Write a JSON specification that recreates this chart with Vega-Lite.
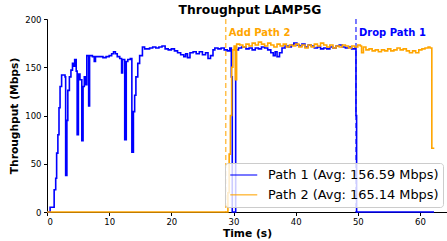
{
  "$schema": "https://vega.github.io/schema/vega-lite/v6.json",
  "width": 400,
  "height": 193,
  "autosize": "none",
  "padding": {"left": 47, "top": 19, "right": 0, "bottom": 29},
  "background": "white",
  "config": {
    "font": "DejaVu Sans",
    "view": {"stroke": null},
    "axis": {
      "grid": false,
      "domainColor": "black",
      "domainWidth": 1,
      "tickColor": "black",
      "tickSize": 3.5,
      "labelFontSize": 8.5,
      "labelColor": "black",
      "labelFont": "DejaVu Sans",
      "titleFont": "DejaVu Sans",
      "titleFontSize": 10.7,
      "titleFontWeight": "bold",
      "titleColor": "black"
    }
  },
  "title": {
    "text": "Throughput LAMP5G",
    "fontSize": 12.3,
    "fontWeight": "bold",
    "font": "DejaVu Sans",
    "color": "black",
    "anchor": "middle",
    "frame": "group",
    "dx": 3,
    "offset": -14.5,
    "baseline": "bottom"
  },
  "datasets": {
    "series": [
      {"t":0,"v":0,"s":"Path 1"},{"t":0.5,"v":5,"s":"Path 1"},{"t":1.15,"v":23,"s":"Path 1"},{"t":1.4,"v":35,"s":"Path 1"},{"t":1.55,"v":61,"s":"Path 1"},{"t":1.75,"v":80,"s":"Path 1"},{"t":1.93,"v":108,"s":"Path 1"},{"t":2.1,"v":130,"s":"Path 1"},{"t":2.35,"v":142,"s":"Path 1"},{"t":2.9,"v":140,"s":"Path 1"},{"t":3.0,"v":38,"s":"Path 1"},{"t":3.2,"v":95,"s":"Path 1"},{"t":3.35,"v":126,"s":"Path 1"},{"t":3.6,"v":140,"s":"Path 1"},{"t":3.85,"v":147,"s":"Path 1"},{"t":4.1,"v":154,"s":"Path 1"},{"t":4.3,"v":151,"s":"Path 1"},{"t":4.45,"v":158,"s":"Path 1"},{"t":4.7,"v":146,"s":"Path 1"},{"t":4.85,"v":80,"s":"Path 1"},{"t":5.05,"v":143,"s":"Path 1"},{"t":5.3,"v":137,"s":"Path 1"},{"t":5.6,"v":74,"s":"Path 1"},{"t":5.8,"v":130,"s":"Path 1"},{"t":6.0,"v":140,"s":"Path 1"},{"t":6.2,"v":132,"s":"Path 1"},{"t":6.4,"v":162,"s":"Path 1"},{"t":6.7,"v":110,"s":"Path 1"},{"t":6.85,"v":162,"s":"Path 1"},{"t":7.3,"v":161,"s":"Path 1"},{"t":7.6,"v":156,"s":"Path 1"},{"t":7.8,"v":161,"s":"Path 1"},{"t":8.5,"v":161,"s":"Path 1"},{"t":9,"v":160,"s":"Path 1"},{"t":9.5,"v":161,"s":"Path 1"},{"t":10,"v":162,"s":"Path 1"},{"t":10.4,"v":164,"s":"Path 1"},{"t":10.7,"v":166,"s":"Path 1"},{"t":11.0,"v":164,"s":"Path 1"},{"t":11.3,"v":161,"s":"Path 1"},{"t":11.7,"v":159,"s":"Path 1"},{"t":12.0,"v":144,"s":"Path 1"},{"t":12.15,"v":158,"s":"Path 1"},{"t":12.5,"v":75,"s":"Path 1"},{"t":12.75,"v":156,"s":"Path 1"},{"t":13.0,"v":158,"s":"Path 1"},{"t":13.4,"v":159,"s":"Path 1"},{"t":13.65,"v":62,"s":"Path 1"},{"t":13.9,"v":104,"s":"Path 1"},{"t":14.1,"v":121,"s":"Path 1"},{"t":14.3,"v":140,"s":"Path 1"},{"t":14.6,"v":154,"s":"Path 1"},{"t":14.9,"v":162,"s":"Path 1"},{"t":15.35,"v":171,"s":"Path 1"},{"t":15.7,"v":169,"s":"Path 1"},{"t":16,"v":169,"s":"Path 1"},{"t":16.5,"v":170,"s":"Path 1"},{"t":17,"v":171,"s":"Path 1"},{"t":17.5,"v":170,"s":"Path 1"},{"t":18,"v":171,"s":"Path 1"},{"t":18.5,"v":172,"s":"Path 1"},{"t":19,"v":169,"s":"Path 1"},{"t":19.5,"v":168,"s":"Path 1"},{"t":20,"v":169,"s":"Path 1"},{"t":20.5,"v":167,"s":"Path 1"},{"t":21,"v":165,"s":"Path 1"},{"t":21.5,"v":163,"s":"Path 1"},{"t":22,"v":161,"s":"Path 1"},{"t":22.3,"v":164,"s":"Path 1"},{"t":22.6,"v":160,"s":"Path 1"},{"t":23,"v":165,"s":"Path 1"},{"t":23.5,"v":166,"s":"Path 1"},{"t":24,"v":164,"s":"Path 1"},{"t":24.5,"v":166,"s":"Path 1"},{"t":25,"v":163,"s":"Path 1"},{"t":25.5,"v":165,"s":"Path 1"},{"t":25.9,"v":159,"s":"Path 1"},{"t":26.3,"v":162,"s":"Path 1"},{"t":26.7,"v":168,"s":"Path 1"},{"t":27,"v":170,"s":"Path 1"},{"t":27.5,"v":169,"s":"Path 1"},{"t":28,"v":170,"s":"Path 1"},{"t":28.5,"v":168,"s":"Path 1"},{"t":29,"v":167,"s":"Path 1"},{"t":29.4,"v":170,"s":"Path 1"},{"t":29.65,"v":140,"s":"Path 1"},{"t":29.8,"v":0,"s":"Path 1"},{"t":30.35,"v":168,"s":"Path 1"},{"t":30.8,"v":170,"s":"Path 1"},{"t":31.3,"v":171,"s":"Path 1"},{"t":32,"v":169,"s":"Path 1"},{"t":32.5,"v":170,"s":"Path 1"},{"t":33,"v":168,"s":"Path 1"},{"t":33.5,"v":170,"s":"Path 1"},{"t":34,"v":169,"s":"Path 1"},{"t":34.5,"v":171,"s":"Path 1"},{"t":35,"v":170,"s":"Path 1"},{"t":35.5,"v":168,"s":"Path 1"},{"t":36,"v":165,"s":"Path 1"},{"t":36.4,"v":162,"s":"Path 1"},{"t":36.7,"v":166,"s":"Path 1"},{"t":37,"v":161,"s":"Path 1"},{"t":37.4,"v":165,"s":"Path 1"},{"t":37.8,"v":170,"s":"Path 1"},{"t":38.3,"v":172,"s":"Path 1"},{"t":38.8,"v":171,"s":"Path 1"},{"t":39.3,"v":173,"s":"Path 1"},{"t":39.7,"v":175,"s":"Path 1"},{"t":40.2,"v":173,"s":"Path 1"},{"t":40.6,"v":172,"s":"Path 1"},{"t":41,"v":174,"s":"Path 1"},{"t":41.5,"v":171,"s":"Path 1"},{"t":42,"v":173,"s":"Path 1"},{"t":42.5,"v":172,"s":"Path 1"},{"t":43,"v":170,"s":"Path 1"},{"t":43.5,"v":171,"s":"Path 1"},{"t":44,"v":169,"s":"Path 1"},{"t":44.5,"v":170,"s":"Path 1"},{"t":45,"v":169,"s":"Path 1"},{"t":45.5,"v":171,"s":"Path 1"},{"t":46,"v":170,"s":"Path 1"},{"t":46.5,"v":172,"s":"Path 1"},{"t":47,"v":173,"s":"Path 1"},{"t":47.5,"v":171,"s":"Path 1"},{"t":48,"v":170,"s":"Path 1"},{"t":48.5,"v":171,"s":"Path 1"},{"t":49,"v":169,"s":"Path 1"},{"t":49.5,"v":170,"s":"Path 1"},{"t":49.7,"v":100,"s":"Path 1"},{"t":49.8,"v":0,"s":"Path 1"},{"t":62.25,"v":0,"s":"Path 1"},
      {"t":0,"v":0,"s":"Path 2"},{"t":29.1,"v":20,"s":"Path 2"},{"t":29.3,"v":60,"s":"Path 2"},{"t":29.5,"v":100,"s":"Path 2"},{"t":29.7,"v":150,"s":"Path 2"},{"t":29.9,"v":168,"s":"Path 2"},{"t":30.1,"v":172,"s":"Path 2"},{"t":30.3,"v":137,"s":"Path 2"},{"t":30.5,"v":174,"s":"Path 2"},{"t":31,"v":173,"s":"Path 2"},{"t":31.5,"v":171,"s":"Path 2"},{"t":32,"v":174,"s":"Path 2"},{"t":32.5,"v":172,"s":"Path 2"},{"t":33,"v":175,"s":"Path 2"},{"t":33.5,"v":173,"s":"Path 2"},{"t":34,"v":176,"s":"Path 2"},{"t":34.5,"v":174,"s":"Path 2"},{"t":35,"v":172,"s":"Path 2"},{"t":35.5,"v":175,"s":"Path 2"},{"t":36,"v":173,"s":"Path 2"},{"t":36.5,"v":171,"s":"Path 2"},{"t":37,"v":174,"s":"Path 2"},{"t":37.5,"v":172,"s":"Path 2"},{"t":38,"v":174,"s":"Path 2"},{"t":38.5,"v":171,"s":"Path 2"},{"t":39,"v":173,"s":"Path 2"},{"t":39.5,"v":172,"s":"Path 2"},{"t":40,"v":174,"s":"Path 2"},{"t":40.5,"v":171,"s":"Path 2"},{"t":41,"v":173,"s":"Path 2"},{"t":41.5,"v":170,"s":"Path 2"},{"t":42,"v":173,"s":"Path 2"},{"t":42.5,"v":171,"s":"Path 2"},{"t":43,"v":174,"s":"Path 2"},{"t":43.5,"v":172,"s":"Path 2"},{"t":44,"v":175,"s":"Path 2"},{"t":44.5,"v":173,"s":"Path 2"},{"t":45,"v":171,"s":"Path 2"},{"t":45.5,"v":173,"s":"Path 2"},{"t":46,"v":170,"s":"Path 2"},{"t":46.5,"v":172,"s":"Path 2"},{"t":47,"v":171,"s":"Path 2"},{"t":47.5,"v":173,"s":"Path 2"},{"t":48,"v":172,"s":"Path 2"},{"t":48.5,"v":170,"s":"Path 2"},{"t":49,"v":172,"s":"Path 2"},{"t":49.5,"v":171,"s":"Path 2"},{"t":50,"v":173,"s":"Path 2"},{"t":50.4,"v":172,"s":"Path 2"},{"t":50.6,"v":165,"s":"Path 2"},{"t":50.9,"v":171,"s":"Path 2"},{"t":51.3,"v":168,"s":"Path 2"},{"t":51.8,"v":169,"s":"Path 2"},{"t":52.3,"v":167,"s":"Path 2"},{"t":52.8,"v":168,"s":"Path 2"},{"t":53.3,"v":166,"s":"Path 2"},{"t":53.8,"v":168,"s":"Path 2"},{"t":54.3,"v":167,"s":"Path 2"},{"t":54.8,"v":169,"s":"Path 2"},{"t":55.3,"v":167,"s":"Path 2"},{"t":55.8,"v":168,"s":"Path 2"},{"t":56.3,"v":170,"s":"Path 2"},{"t":56.8,"v":168,"s":"Path 2"},{"t":57.3,"v":169,"s":"Path 2"},{"t":57.8,"v":167,"s":"Path 2"},{"t":58.3,"v":165,"s":"Path 2"},{"t":58.8,"v":167,"s":"Path 2"},{"t":59.3,"v":165,"s":"Path 2"},{"t":59.8,"v":168,"s":"Path 2"},{"t":60.3,"v":169,"s":"Path 2"},{"t":60.8,"v":170,"s":"Path 2"},{"t":61.3,"v":171,"s":"Path 2"},{"t":61.6,"v":170,"s":"Path 2"},{"t":61.9,"v":66,"s":"Path 2"},{"t":62.3,"v":66,"s":"Path 2"}
    ],
    "events": [
      {"t": 28.75, "label": "Add Path 2", "c": "#FFA500"},
      {"t": 49.7, "label": "Drop Path 1", "c": "#0000FF"}
    ]
  },
  "layer": [
    {
      "data": {"name": "events"},
      "mark": {"type": "rule", "strokeDash": [5, 3], "strokeWidth": 1.5, "opacity": 0.7},
      "encoding": {
        "x": {"field": "t", "type": "quantitative", "scale": {"domain": [0, 64.34], "nice": false}},
        "color": {"field": "c", "type": "nominal", "scale": null}
      }
    },
    {
      "data": {"name": "series"},
      "mark": {"type": "line", "interpolate": "step-after", "strokeWidth": 1.6},
      "encoding": {
        "x": {"field": "t", "type": "quantitative", "scale": {"domain": [0, 64.34], "nice": false},
              "axis": {"values": [0, 10, 20, 30, 40, 50, 60], "title": "Time (s)", "labelPadding": 1.5, "titlePadding": 3}},
        "y": {"field": "v", "type": "quantitative", "scale": {"domain": [0, 200], "nice": false},
              "axis": {"values": [0, 25, 50, 75, 100, 125, 150, 175, 200], "title": "Throughput (Mbps)", "labelPadding": 2.5, "titlePadding": 5}},
        "color": {"field": "s", "type": "nominal",
                  "scale": {"domain": ["Path 1", "Path 2"], "range": ["#0000FF", "#FFA500"]},
                  "legend": {
                    "title": null, "orient": "none", "legendX": 178, "legendY": 144,
                    "labelExpr": "datum.value == 'Path 1' ? 'Path 1 (Avg: 156.59 Mbps)' : 'Path 2 (Avg: 165.14 Mbps)'",
                    "symbolType": "M-1,0H3", "symbolSize": 182, "symbolStrokeWidth": 1.5,
                    "labelFontSize": 12.9, "labelFont": "DejaVu Sans", "labelColor": "#000000", "labelLimit": 0,
                    "labelOffset": 23.5, "rowPadding": 4.8, "padding": 4.5,
                    "fillColor": "rgba(255,255,255,0.8)", "strokeColor": "#cccccc", "cornerRadius": 3
                  }},
        "order": {"field": "t", "type": "quantitative"}
      }
    },
    {
      "data": {"name": "events"},
      "mark": {"type": "text", "align": "left", "baseline": "alphabetic", "fontWeight": "bold", "fontSize": 10, "font": "DejaVu Sans", "dx": 3},
      "encoding": {
        "x": {"field": "t", "type": "quantitative"},
        "y": {"datum": 182, "type": "quantitative"},
        "text": {"field": "label"},
        "color": {"field": "c", "type": "nominal", "scale": null}
      }
    }
  ]
}
